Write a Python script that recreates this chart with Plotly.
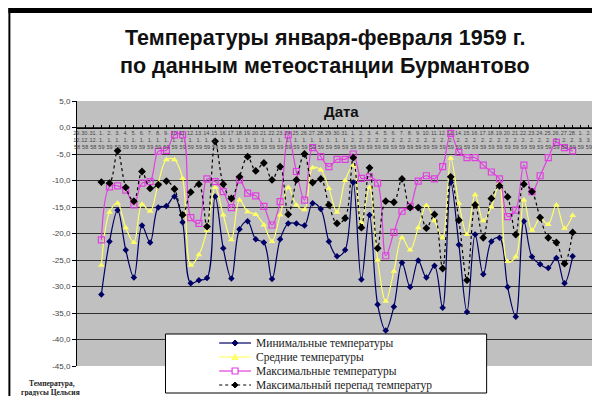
import plotly.graph_objects as go

# category labels (29.12.1958 - 03.03.1959)
dates = ["29.12.58", "30.12.58", "31.12.58",
         "01.01.59", "02.01.59", "03.01.59", "04.01.59", "05.01.59", "06.01.59", "07.01.59", "08.01.59",
         "09.01.59", "10.01.59", "11.01.59", "12.01.59", "13.01.59", "14.01.59", "15.01.59", "16.01.59",
         "17.01.59", "18.01.59", "19.01.59", "20.01.59", "21.01.59", "22.01.59", "23.01.59", "24.01.59",
         "25.01.59", "26.01.59", "27.01.59", "28.01.59", "29.01.59", "30.01.59", "31.01.59",
         "01.02.59", "02.02.59", "03.02.59", "04.02.59", "05.02.59", "06.02.59", "07.02.59", "08.02.59",
         "09.02.59", "10.02.59", "11.02.59", "12.02.59", "13.02.59", "14.02.59", "15.02.59", "16.02.59",
         "17.02.59", "18.02.59", "19.02.59", "20.02.59", "21.02.59", "22.02.59", "23.02.59", "24.02.59",
         "25.02.59", "26.02.59", "27.02.59", "28.02.59",
         "01.03.59", "02.03.59", "03.03.59"]
data_dates = dates[3:62]

t_min = [-31.5, -21.5, -15.6, -23.1, -28.3, -18.5, -21.7, -15.1, -14.8, -13.0, -17.9, -29.4, -28.8, -28.4,
         -13.0, -22.8, -28.5, -19.2, -17.7, -21.1, -21.7, -28.6, -21.1, -18.1, -18.1, -18.5, -14.3, -15.4,
         -21.5, -24.3, -23.1,
         -10.4, -28.7, -16.5, -33.4, -38.3, -33.8, -25.5, -30.1, -25.1, -28.3, -26.1, -34.0, -10.4, -22.1,
         -34.8, -20.2, -27.7, -21.5, -20.8, -30.1, -35.7, -17.7, -24.4, -25.8, -26.5, -24.6, -29.4, -24.3]
t_avg = [-26.0, -16.0, -14.3, -18.9, -21.7, -14.5, -15.8, -10.5, -6.1, -6.1, -9.6, -26.0, -24.0, -19.4,
         -11.3, -16.5, -21.2, -13.7, -15.9, -16.4, -18.4, -21.5, -16.5, -11.3, -14.6, -15.5, -7.6, -8.0,
         -11.5, -16.0, -10.0,
         -7.2, -18.0, -11.3, -25.0, -32.8, -27.1, -20.8, -23.1, -18.9, -14.7, -17.6, -20.8, -5.8, -14.3,
         -20.2, -12.7, -17.6, -15.0, -10.5, -25.3, -24.4, -13.7, -19.4, -17.1, -18.3, -14.6, -19.0, -16.6]
t_max = [-21.2, -11.2, -11.0, -11.8, -14.6, -10.5, -10.2, -4.5, -4.3, -1.4, -1.4, -17.0, -18.1, -9.7,
         -10.2, -12.1, -15.1, -9.9, -12.4, -12.9, -14.9, -18.4, -14.0, -1.4, -8.3, -13.7, -3.8, -5.5,
         -7.4, -6.0, -6.0,
         -5.0, -9.6, -9.3, -10.5, -24.2, -19.8, -15.8, -14.9, -10.1, -9.1, -9.7, -7.4, -1.1, -4.7,
         -5.7, -5.7, -7.1, -8.4, -9.7, -16.8, -15.6, -7.1, -12.1, -9.1, -5.7, -2.8, -3.8, -4.4]
t_range = [-10.3, -10.5, -4.4, -11.3, -13.9, -8.3, -11.5, -10.8, -10.1, -11.6, -16.5, -12.2, -10.7, -18.7,
           -2.6, -10.7, -13.4, -9.3, -5.5, -8.2, -6.7, -9.9, -7.4, -16.4, -9.9, -5.0, -10.4, -9.7,
           -14.6, -18.1, -17.1,
           -5.7, -18.9, -7.6, -22.8, -13.9, -14.1, -9.7, -15.1, -15.1, -19.0, -16.4, -26.6, -9.3, -17.5,
           -28.8, -14.6, -20.8, -13.4, -11.0, -13.1, -20.2, -10.7, -12.1, -17.0, -20.8, -21.7, -25.7, -19.8]

series_names = ["Минимальные температуры", "Средние температуры",
                "Максимальные температуры", "Максимальный перепад температур"]

y_ticks = [5, 0, -5, -10, -15, -20, -25, -30, -35, -40, -45]
y_ticktext = ["5,0", "0,0", "-5,0", "-10,0", "-15,0", "-20,0", "-25,0", "-30,0", "-35,0", "-40,0", "-45,0"]

W, H = 600, 396
L, R, T, B = 69, 8, 93, 38
PW, PH = W - L - R, H - T - B


def px(x):
    return (x - L) / PW


def py(y):
    return (H - B - y) / PH


tick_text = []
for d in dates:
    dd, mm, yy = d.split(".")
    tick_text.append(f"{int(dd)}.<br>{int(mm)}.<br>{yy}")

fig = go.Figure()
fig.add_trace(go.Scatter(x=dates, y=[None] * len(dates), mode="markers", showlegend=False,
                         hoverinfo="skip"))

C_MIN, C_AVG, C_MAX, C_RNG = "#000066", "#FFFF66", "#E040E0", "#000000"
SM = 1.0

fig.add_trace(go.Scatter(x=data_dates, y=t_min, name=series_names[0], mode="lines+markers",
                         line=dict(color=C_MIN, width=1.2, shape="spline", smoothing=SM),
                         marker=dict(symbol="diamond", size=5, color=C_MIN)))
fig.add_trace(go.Scatter(x=data_dates, y=t_avg, name=series_names[1], mode="lines+markers",
                         line=dict(color=C_AVG, width=1.2, shape="spline", smoothing=SM),
                         marker=dict(symbol="triangle-up", size=6, color=C_AVG)))
fig.add_trace(go.Scatter(x=data_dates, y=t_max, name=series_names[2], mode="lines+markers",
                         line=dict(color=C_MAX, width=1.2, shape="spline", smoothing=SM),
                         marker=dict(symbol="square-open", size=6, color=C_MAX, line=dict(width=1.2))))
fig.add_trace(go.Scatter(x=data_dates, y=t_range, name=series_names[3], mode="lines+markers",
                         line=dict(color=C_RNG, width=1.2, dash="dot", shape="spline", smoothing=SM),
                         marker=dict(symbol="diamond", size=6, color=C_RNG)))

shapes = []
# legend box
shapes.append(dict(type="rect", xref="paper", yref="paper", x0=px(158), x1=px(481), y0=py(326), y1=py(385),
                   fillcolor="white", line=dict(color="black", width=1), layer="above"))
leg_y = [335, 349, 363, 377]
leg_col = [C_MIN, C_AVG, C_MAX, C_RNG]
annotations = []
for i, (yy, col) in enumerate(zip(leg_y, leg_col)):
    shapes.append(dict(type="line", xref="paper", yref="paper", x0=px(212), x1=px(244), y0=py(yy), y1=py(yy),
                       line=dict(color=col, width=1.2, dash="dot" if i == 3 else "solid"), layer="above"))
    cx, cy = 228, yy
    if i in (0, 3):
        path = f"M{px(cx)},{py(cy - 3)} L{px(cx + 3)},{py(cy)} L{px(cx)},{py(cy + 3)} L{px(cx - 3)},{py(cy)} Z"
        shapes.append(dict(type="path", xref="paper", yref="paper", path=path, fillcolor=col,
                           line=dict(color=col, width=1), layer="above"))
    elif i == 1:
        path = f"M{px(cx)},{py(cy - 3)} L{px(cx + 3)},{py(cy + 2.5)} L{px(cx - 3)},{py(cy + 2.5)} Z"
        shapes.append(dict(type="path", xref="paper", yref="paper", path=path, fillcolor=col,
                           line=dict(color=col, width=1), layer="above"))
    else:
        shapes.append(dict(type="rect", xref="paper", yref="paper", x0=px(cx - 3), x1=px(cx + 3),
                           y0=py(cy + 3), y1=py(cy - 3), fillcolor="white",
                           line=dict(color=col, width=1.2), layer="above"))
    annotations.append(dict(x=px(247), y=py(yy), xref="paper", yref="paper", text=series_names[i],
                            showarrow=False, xanchor="left", yanchor="middle",
                            font=dict(family="Liberation Serif", size=11.5, color="#1a1a1a")))

# black photo frame
for (x0, x1, y0, y1) in [(0, 600, 0, 5), (0, 600, 390, 396), (592, 600, 0, 396), (0, 2, 0, 396)]:
    shapes.append(dict(type="rect", xref="paper", yref="paper", x0=px(x0), x1=px(x1), y0=py(y1), y1=py(y0),
                       fillcolor="black", line=dict(width=0), layer="above"))

annotations += [
    dict(x=px(318), y=py(30), xref="paper", yref="paper", text="<b>Температуры января-февраля 1959 г.</b>",
         showarrow=False, xanchor="center", yanchor="middle",
         font=dict(family="Liberation Sans", size=21.5, color="#111")),
    dict(x=px(318), y=py(58), xref="paper", yref="paper", text="<b>по данным метеостанции Бурмантово</b>",
         showarrow=False, xanchor="center", yanchor="middle",
         font=dict(family="Liberation Sans", size=21.5, color="#111")),
    dict(x=px(335), y=py(103), xref="paper", yref="paper", text="<b>Дата</b>",
         showarrow=False, xanchor="center", yanchor="middle",
         font=dict(family="Liberation Sans", size=15, color="#111")),
    dict(x=px(44), y=py(375), xref="paper", yref="paper", text="<b>Температура,</b>",
         showarrow=False, xanchor="center", yanchor="middle",
         font=dict(family="Liberation Serif", size=7.5, color="#222")),
    dict(x=px(42), y=py(384), xref="paper", yref="paper", text="<b>градусы Цельсия</b>",
         showarrow=False, xanchor="center", yanchor="middle",
         font=dict(family="Liberation Serif", size=7.5, color="#222")),
]

fig.update_layout(
    width=W, height=H,
    margin=dict(l=L, r=R, t=T, b=B, pad=0),
    paper_bgcolor="white", plot_bgcolor="#C0C0C0",
    showlegend=False,
    shapes=shapes, annotations=annotations,
    xaxis=dict(type="category", categoryorder="array", categoryarray=dates, range=[0, len(dates) - 1],
               tickmode="array", tickvals=dates, ticktext=tick_text, tickangle=0,
               tickfont=dict(family="Liberation Sans", size=5.5, color="#444"),
               ticks="inside", ticklen=3, tickcolor="black",
               showgrid=False, zeroline=False, showline=True, linecolor="black", linewidth=1,
               anchor="free", position=0.9, side="bottom"),
    yaxis=dict(range=[-45, 5], tickmode="array", tickvals=y_ticks, ticktext=y_ticktext,
               tickfont=dict(family="Liberation Sans", size=8, color="#444"),
               ticks="outside", ticklen=4, tickcolor="black",
               showgrid=True, gridcolor="#303030", gridwidth=1, zeroline=False,
               showline=True, linecolor="black", linewidth=1),
)

fig.write_html("out.html")
